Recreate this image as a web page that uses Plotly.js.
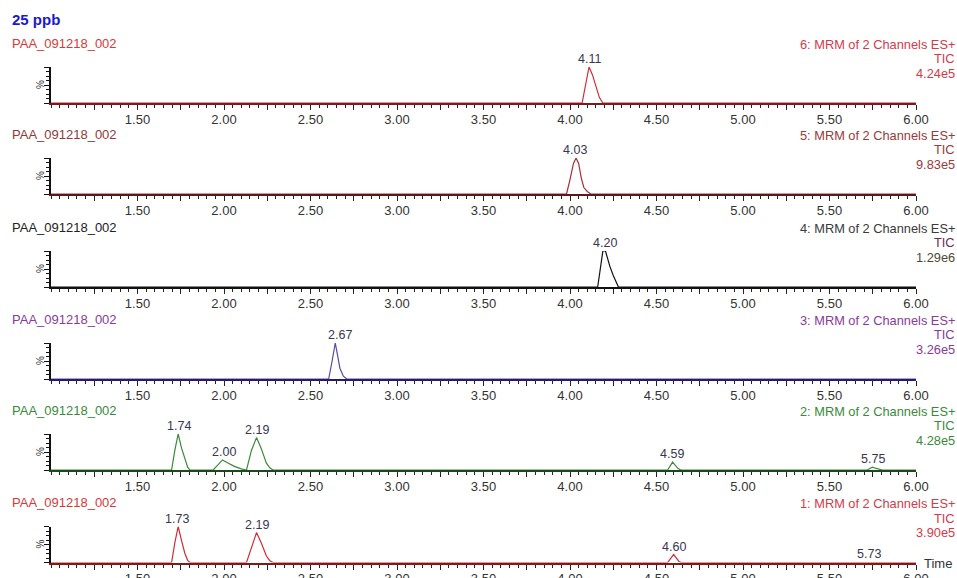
<!DOCTYPE html>
<html>
<head>
<meta charset="utf-8">
<script src="https://cdn.plot.ly/plotly-3.0.1.min.js"></script>
<style>html,body{margin:0;padding:0;background:#fff;}#chart{width:957px;height:578px;}</style>
</head>
<body>
<div id="chart"></div>
<script>
// ---- Data ----
const sampleName = "PAA_091218_002";
const chartTitle = "25 ppb";

// Panel 6 (top) ... Panel 1 (bottom): retention time (min) and relative intensity (%)
const t6 = [1.0, 4.07, 4.09, 4.11, 4.13, 4.15, 4.17, 4.19, 6.0];
const i6 = [0, 0, 50, 100, 78, 45, 15, 0, 0];

const t5 = [1.0, 3.98, 4.00, 4.02, 4.035, 4.05, 4.065, 4.08, 4.10, 4.12, 6.0];
const i5 = [0, 0, 40, 85, 100, 85, 45, 18, 7, 0, 0];

const t4 = [1.0, 4.16, 4.175, 4.19, 4.205, 4.215, 4.23, 4.25, 4.27, 4.28, 6.0];
const i4 = [0, 0, 50, 100, 100, 80, 58, 32, 10, 0, 0];

const t3 = [1.0, 2.605, 2.625, 2.643, 2.655, 2.67, 2.69, 2.71, 6.0];
const i3 = [0, 0, 50, 100, 70, 30, 8, 0, 0];

const t2 = [1.0, 1.697, 1.716, 1.735, 1.755, 1.774, 1.79, 1.803,
            1.937, 1.965, 1.991, 2.02, 2.06, 2.10, 2.13,
            2.159, 2.188, 2.215, 2.245, 2.265, 2.283,
            4.564, 4.58, 4.593, 4.61, 4.625, 4.641,
            5.719, 5.735, 5.748, 5.765, 5.785, 5.806, 6.0];
const i2 = [0, 0, 55, 100, 60, 28, 8, 0,
            0, 14, 28, 20, 10, 3, 0,
            55, 90, 60, 19, 6, 0,
            0, 12, 22, 12, 4, 0,
            0, 5, 8, 5, 2, 0, 0];

const t1 = [1.0, 1.697, 1.716, 1.735, 1.755, 1.774, 1.79, 1.803,
            2.13, 2.16, 2.188, 2.215, 2.245, 2.265, 2.283,
            4.564, 4.585, 4.599, 4.615, 4.63, 4.641,
            5.71, 5.73, 5.75, 6.0];
const i1 = [0, 0, 55, 100, 60, 25, 6, 0,
            0, 45, 83, 55, 18, 5, 0,
            0, 15, 22, 12, 3, 0,
            0, 2, 0, 0];

// Peak labels (retention times printed above peaks)
const labels6 = [4.11];
const labels5 = [4.03];
const labels4 = [4.20];
const labels3 = [2.67];
const labels2 = [1.74, 2.00, 2.19, 4.59, 5.75];
const labels1 = [1.73, 2.19, 4.60, 5.73];

// Channel info (right side)
const channelNames = ["6: MRM of 2 Channels ES+", "5: MRM of 2 Channels ES+", "4: MRM of 2 Channels ES+",
                      "3: MRM of 2 Channels ES+", "2: MRM of 2 Channels ES+", "1: MRM of 2 Channels ES+"];
const channelTypes = ["TIC", "TIC", "TIC", "TIC", "TIC", "TIC"];
const channelMax = ["4.24e5", "9.83e5", "1.29e6", "3.26e5", "4.28e5", "3.90e5"];

// X tick labels
const xTickVals = [1.25, 1.5, 1.75, 2.0, 2.25, 2.5, 2.75, 3.0, 3.25, 3.5, 3.75, 4.0, 4.25, 4.5, 4.75, 5.0, 5.25, 5.5, 5.75, 6.0];
const xTickText = ["", "1.50", "", "2.00", "", "2.50", "", "3.00", "", "3.50", "", "4.00", "", "4.50", "", "5.00", "", "5.50", "", "6.00"];

// ---- Styling / layout ----
const FONT = "Liberation Sans, Arial, sans-serif";
const W = 957, H = 578;
const plotLeft = 51, plotRight = 916;
const baselines = [103, 194, 287, 379, 470, 562.5];
const axisH = 36;

const panels = [
  {t: t6, i: i6, lab: labels6, line: "#d42a36", base: "#7a1c1c", title: "#d43a3a", right: ["#d43a4a", "#d43a4a", "#d43a4a"]},
  {t: t5, i: i5, lab: labels5, line: "#a82c34", base: "#5a1a1a", title: "#8e3a3a", right: ["#9a3a3a", "#9a3a3a", "#9a3a3a"]},
  {t: t4, i: i4, lab: labels4, line: "#111111", base: "#111111", title: "#222222", right: ["#3a3a3a", "#6a2a5a", "#4a4a30"]},
  {t: t3, i: i3, lab: labels3, line: "#5a4aa8", base: "#2a1a6a", title: "#8a3a9a", right: ["#8a3a9a", "#8a3a9a", "#8a3a9a"]},
  {t: t2, i: i2, lab: labels2, line: "#3a8a3a", base: "#1a4a1a", title: "#3a8a3a", right: ["#3a8a3a", "#3a8a3a", "#3a8a3a"]},
  {t: t1, i: i1, lab: labels1, line: "#d42a36", base: "#7a1c1c", title: "#d43a3a", right: ["#d43a4a", "#d43a4a", "#d43a4a"]}
];

const data = [];
const layout = {
  width: W, height: H,
  margin: {l: 0, r: 0, t: 0, b: 0},
  paper_bgcolor: "#ffffff", plot_bgcolor: "#ffffff",
  showlegend: false,
  font: {family: FONT, size: 12, color: "#333"},
  annotations: []
};

const py = p => 1 - p / H;
const px = p => p / W;

panels.forEach((p, k) => {
  const n = k + 1;
  const xa = n === 1 ? "xaxis" : "xaxis" + n;
  const ya = n === 1 ? "yaxis" : "yaxis" + n;
  const xr = n === 1 ? "x" : "x" + n;
  const yr = n === 1 ? "y" : "y" + n;
  const b = baselines[k];

  data.push({
    x: p.t, y: p.i, xaxis: xr, yaxis: yr, type: "scatter", mode: "lines",
    line: {color: p.line, width: 1.2, shape: "linear"},
    hoverinfo: "skip"
  });

  layout[xa] = {
    domain: [px(plotLeft), px(plotRight)], anchor: yr,
    range: [1, 6], tickvals: xTickVals, ticktext: xTickText,
    ticks: "outside", ticklen: 5, tickwidth: 1, tickcolor: "#222",
    ticklabelstandoff: -2,
    minor: {dtick: 0.05, tick0: 1, ticks: "outside", ticklen: 3, tickwidth: 1, tickcolor: "#222"},
    showline: true, linecolor: p.base, linewidth: 2,
    showgrid: false, zeroline: false, fixedrange: true,
    tickfont: {family: FONT, size: 13, color: "#333"}
  };
  layout[ya] = {
    domain: [py(b), py(b - axisH)], anchor: xr,
    range: [0, 100], tickvals: [0, 50, 100],
    ticks: "outside", ticklen: 5, tickwidth: 1, tickcolor: "#111",
    minor: {dtick: 12.5, ticks: "outside", ticklen: 3, tickwidth: 1, tickcolor: "#111"},
    showticklabels: false, showline: true, linecolor: "#111", linewidth: 2,
    showgrid: false, zeroline: false, fixedrange: true
  };

  // sample name (left)
  layout.annotations.push({xref: "paper", yref: "paper", x: px(10), y: py(b - 60), xanchor: "left", yanchor: "middle",
    text: sampleName, showarrow: false, font: {family: FONT, size: 13, color: p.title}});
  // channel info (right)
  [channelNames[k], channelTypes[k], channelMax[k]].forEach((txt, j) => {
    layout.annotations.push({xref: "paper", yref: "paper", x: px(957), y: py(b - 59 + j * 14.5), xanchor: "right", yanchor: "middle",
      text: txt, showarrow: false, font: {family: FONT, size: 12.8, color: p.right[j]}});
  });
  // "%" label
  layout.annotations.push({xref: "paper", yref: "paper", x: px(40), y: py(b - axisH / 2), xanchor: "center", yanchor: "middle",
    text: "%", textangle: -90, showarrow: false, font: {family: FONT, size: 10, color: "#333"}});
  // peak labels
  p.lab.forEach(v => {
    let h = 0;
    p.t.forEach((tt, m) => { if (Math.abs(tt - v) <= 0.035 && p.i[m] > h) h = p.i[m]; });
    layout.annotations.push({xref: xr, yref: yr, x: v, y: h, xanchor: "center", yanchor: "bottom", yshift: -1,
      text: v.toFixed(2), showarrow: false, font: {family: FONT, size: 12.5, color: "#3a3550"}});
  });
});

layout.annotations.push({xref: "paper", yref: "paper", x: px(10), y: py(20), xanchor: "left", yanchor: "middle",
  text: "<b>" + chartTitle + "</b>", showarrow: false, font: {family: FONT, size: 15, color: "#1a1acc"}});
layout.annotations.push({xref: "paper", yref: "paper", x: px(922), y: py(563), xanchor: "left", yanchor: "middle",
  text: "Time", showarrow: false, font: {family: FONT, size: 13, color: "#333"}});

Plotly.newPlot("chart", data, layout, {displayModeBar: false, staticPlot: true});
</script>
</body>
</html>
